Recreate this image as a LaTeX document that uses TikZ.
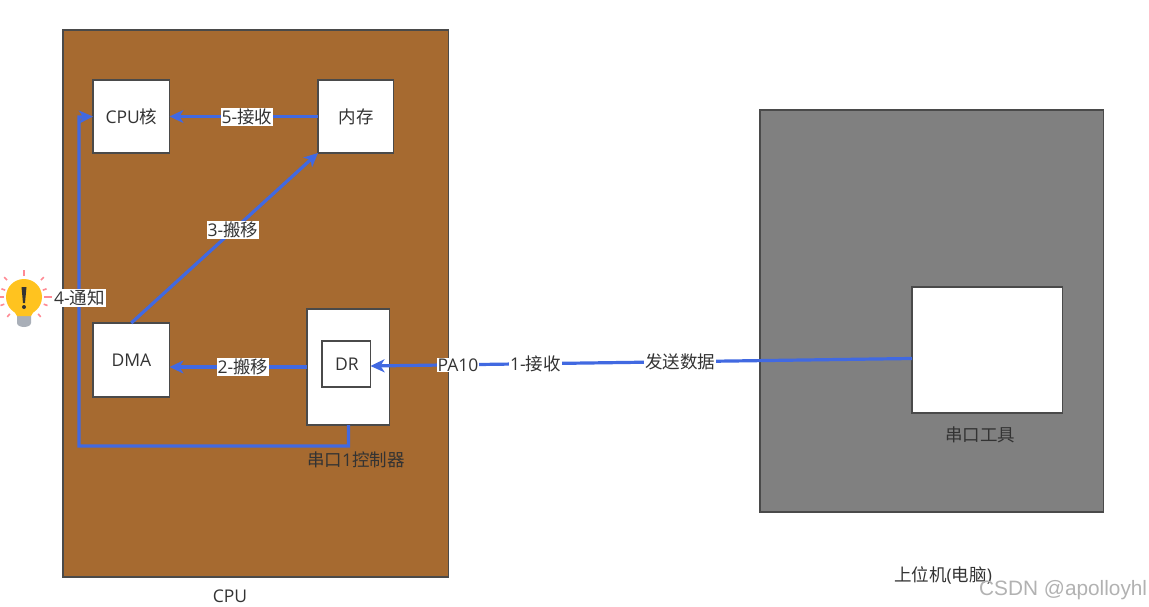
\documentclass[tikz,border=0pt]{standalone}
\usepackage{fontspec}
\setmainfont{Open Sans}
\newfontfamily\cjk{Noto Sans CJK SC}
\newfontfamily\markfont{Liberation Sans}
\usetikzlibrary{arrows.meta}
\definecolor{brownbg}{HTML}{A66A30}
\definecolor{greybg}{HTML}{808080}
\definecolor{edge}{HTML}{4A4A4A}
\definecolor{wire}{HTML}{4169E1}
\definecolor{ink}{HTML}{333333}
\definecolor{ray}{HTML}{FF8A94}
\definecolor{bulb}{HTML}{FFC31F}
\definecolor{bulbbase}{HTML}{A9AFB8}
\tikzset{
  every node/.style={font=\fontsize{17.5}{19}\selectfont,text=ink},
  panel/.style={draw=edge,line width=1.3pt,anchor=north west,inner sep=0pt,outer sep=0pt},
  whitebox/.style={panel,fill=white},
  wirepath/.style={draw=wire,line width=3.2pt},
  wirearrow/.style={wirepath,-{Stealth[length=14pt,width=13pt,inset=4pt]}},
  tag/.style={fill=white,inner sep=1pt},
  caption/.style={inner sep=0pt},
}
\begin{document}
\begin{tikzpicture}[x=1pt,y=-1pt]
\useasboundingbox (0,0) rectangle (1149,607);
\fill[white] (0,0) rectangle (1149,607);
% panels
\node[panel,fill=brownbg,minimum width=385.5pt,minimum height=547pt] (cpu) at (63,30) {};
\node[panel,fill=greybg,minimum width=343.5pt,minimum height=402pt] (pc) at (760,110) {};
\node[whitebox,minimum width=150.5pt,minimum height=126pt] (tool) at (912,287) {};
\node[whitebox,minimum width=76.5pt,minimum height=73pt] (core) at (93,80) {};
\node[whitebox,minimum width=75.5pt,minimum height=73pt] (mem) at (318,80) {};
\node[whitebox,minimum width=76.5pt,minimum height=74pt] (dma) at (93,323) {};
\node[whitebox,minimum width=82.5pt,minimum height=116pt] (uart) at (307,309) {};
\node[whitebox,minimum width=48.5pt,minimum height=46pt] (dr) at (322,341) {};
% box texts
\node[caption] (corelabel) at (131.5,117) {CPU{\cjk 核}};
\node[caption] (memlabel) at (356,117) {{\cjk 内存}};
\node[caption] (dmalabel) at (131.5,360) {DMA};
\node[caption] (drlabel) at (347,364) {DR};
\node[caption] (uartlabel) at (356,460) {{\cjk 串口}1{\cjk 控制器}};
\node[caption] (toollabel) at (980,435) {{\cjk 串口工具}};
\node[caption] (cpulabel) at (230,596) {CPU};
\node[caption] (pclabel) at (943,575) {{\cjk 上位机}({\cjk 电脑})};
% anchors for connectors
\coordinate (toolout) at (tool.west|-0,358.5);
\coordinate (drin) at (dr.east|-0,366);
\coordinate (uartout) at (uart.west|-0,367);
\coordinate (dmain) at (dma.east|-0,367);
\coordinate (uartdown) at (348.5,425);
\coordinate (turn1) at (348.5,446);
\coordinate (turn2) at (79,446);
\coordinate (turn3) at (79,117);
% connectors
\draw[wirearrow] (toolout) -- (drin);
\draw[wirearrow] (uartout) -- (dmain);
\draw[wirearrow] (dma.north) -- (mem.south west);
\draw[wirearrow] (mem.west) -- (core.east);
\draw[wirearrow] (uartdown) -- (turn1) -- (turn2) -- (turn3) -- (core.west);
% connector labels
\node[tag] (pa) at (458,365) {PA10};
\node[tag] (recv1) at (535.5,364) {1-{\cjk 接收}};
\node[tag] (send) at (680,362) {{\cjk 发送数据}};
\node[tag] (move2) at (243,367) {2-{\cjk 搬移}};
\node[tag] (move3) at (233,230) {3-{\cjk 搬移}};
\node[tag] (notify) at (79.5,298) {4-{\cjk 通知}};
\node[tag] (recv5) at (247,117) {5-{\cjk 接收}};
% bulb
\begin{scope}[shift={(24,297)}]
  \foreach \a/\r/\R in {-90/21/27,-135/24/28,-45/24/28,180/20/24,0/20/28,-160/20/24,-20/20/24,160/21/25,20/21/25,130/22/26,50/22/26}
    \draw[ray,line width=1.6pt] (\a:\r) -- (\a:\R);
  \fill[bulbbase] (-7,17) -- (7,17) -- (7,26) arc[start angle=0,end angle=180,radius=7,y radius=4];
  \fill[bulb] (-10,14) -- (-7,19) -- (7,19) -- (10,14) -- cycle;
  \fill[bulb] (0,0) circle (18);
  \fill[ink] (-2.5,-10) -- (2.5,-10) -- (1,6) -- (-1,6) -- cycle;
  \fill[ink] (0,10) circle (2);
\end{scope}
% watermark
\node[caption,anchor=base west,font=\markfont\fontsize{20.8}{22}\selectfont,text=black!30] (mark) at (979,595) {CSDN @apolloyhl};
\end{tikzpicture}
\end{document}
